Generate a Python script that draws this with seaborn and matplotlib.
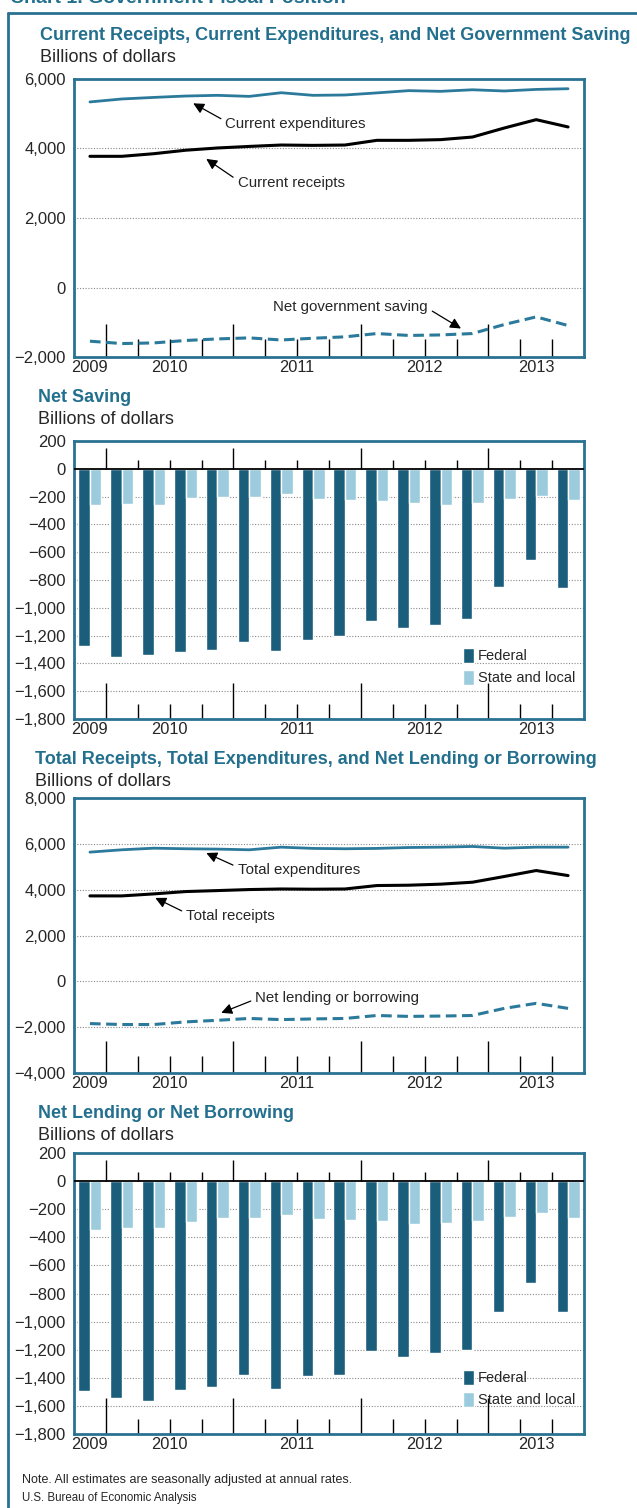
import numpy as np
import pandas as pd
import matplotlib
matplotlib.use('Agg')
import matplotlib.pyplot as plt
import matplotlib.transforms as mtransforms
from matplotlib.lines import Line2D
from matplotlib.ticker import FuncFormatter
import seaborn as sns

sns.set_style('white')
plt.rcParams['font.family'] = ['Liberation Sans', 'DejaVu Sans']

# ---- data (billions of dollars, seasonally adjusted annual rates) ----
quarters = ['2009 Q4',
            '2010 Q1', '2010 Q2', '2010 Q3', '2010 Q4',
            '2011 Q1', '2011 Q2', '2011 Q3', '2011 Q4',
            '2012 Q1', '2012 Q2', '2012 Q3', '2012 Q4',
            '2013 Q1', '2013 Q2', '2013 Q3']
years = ['2009', '2010', '2011', '2012', '2013']
quarters_per_year = [1, 4, 4, 4, 3]

current_expenditures = [5340, 5425, 5470, 5510, 5530, 5500, 5605, 5530,
                        5540, 5600, 5665, 5645, 5690, 5655, 5700, 5720]
current_receipts = [3775, 3775, 3850, 3950, 4015, 4060, 4100, 4090,
                    4100, 4235, 4235, 4255, 4330, 4590, 4830, 4620]
net_government_saving = [-1545, -1613, -1595, -1525, -1480, -1450, -1510, -1460,
                         -1420, -1325, -1380, -1365, -1325, -1065, -845, -1095]

saving_federal = [-1277, -1351, -1337, -1317, -1303, -1245, -1313, -1229,
                  -1205, -1092, -1145, -1121, -1078, -853, -654, -857]
saving_state_local = [-263, -254, -259, -211, -201, -206, -182, -216,
                      -223, -235, -249, -259, -247, -220, -199, -225]

total_expenditures = [5638, 5740, 5810, 5785, 5770, 5740, 5855, 5800,
                      5785, 5800, 5840, 5855, 5885, 5810, 5855, 5855]
total_receipts = [3728, 3728, 3815, 3917, 3960, 4005, 4030, 4020,
                  4030, 4180, 4195, 4240, 4325, 4575, 4835, 4615]
net_lending = [-1843, -1885, -1885, -1770, -1700, -1620, -1670, -1640,
               -1620, -1490, -1530, -1515, -1490, -1180, -960, -1180]

lending_federal = [-1494, -1544, -1565, -1489, -1468, -1382, -1477, -1387,
                   -1378, -1211, -1252, -1221, -1202, -931, -722, -931]
lending_state_local = [-349, -337, -337, -290, -266, -266, -242, -273,
                       -278, -285, -302, -299, -283, -259, -230, -261]

# ---- styling ----
TEAL = '#236f8e'
SPINE = '#2b7292'
LINE_TEAL = '#2c7a9b'
FEDERAL = '#1b5e7b'
STATE = '#9ccbdd'
W, H = 637, 1508

x = np.arange(len(quarters))
edges = np.cumsum(quarters_per_year) - 0.5
major_bounds = edges[:-1]
year_centers = (np.concatenate([[-0.5], edges[:-1]]) + edges) / 2
minor_bounds = [b for b in np.arange(0.5, len(quarters) - 1, 1.0) if b not in major_bounds]


def fmt(v, pos):
    return f'{v:,.0f}'.replace('-', '\u2212')


def px_axes(fig, left, top, right, bottom):
    return fig.add_axes([left / W, 1 - bottom / H, (right - left) / W, (bottom - top) / H])


def style_axes(ax, ylim, yticks, grid_vals, major_len, minor_len):
    ax.set_xlim(-0.5, len(quarters) - 0.5)
    ax.set_ylim(*ylim)
    ax.set_yticks(yticks)
    ax.yaxis.set_major_formatter(FuncFormatter(fmt))
    ax.tick_params(axis='y', length=0, labelsize=12, pad=6)
    ax.set_xticks(major_bounds)
    ax.set_xticks(minor_bounds, minor=True)
    ax.tick_params(axis='x', which='major', direction='in', length=major_len, width=1,
                   color='black', labelbottom=False, bottom=True)
    ax.tick_params(axis='x', which='minor', direction='in', length=minor_len, width=1,
                   color='black', labelbottom=False, bottom=True)
    for s in ax.spines.values():
        s.set_color(SPINE)
        s.set_linewidth(2)
    for g in grid_vals:
        ax.axhline(g, color='#8a8a8a', lw=0.8, ls=(0, (1, 1.5)), zorder=0)
    trans = mtransforms.blended_transform_factory(ax.transData, ax.transAxes)
    for yr, c in zip(years, year_centers):
        ax.text(c, -0.012, yr, transform=trans, ha='center', va='top', fontsize=11.8)
    ax.set_xlabel('')
    ax.set_ylabel('')


def titles(fig, xpx, ypx, title):
    fig.text(xpx / W, 1 - ypx / H, title, color=TEAL, fontsize=13,
             fontweight='bold', va='center', ha='left')
    fig.text(xpx / W, 1 - (ypx + 22) / H, 'Billions of dollars', fontsize=13,
             va='center', ha='left')


def arrow(ax, text, tip, pos, relpos=(0, 0.5), ha='left'):
    ax.annotate(text, xy=tip, xytext=pos, ha=ha, va='center', fontsize=10.8,
                arrowprops=dict(arrowstyle='-|>', color='black', lw=0.9,
                                mutation_scale=16, shrinkA=1, shrinkB=0,
                                relpos=relpos))


def bar_panel(ax, federal, state, legend_y):
    df = pd.DataFrame({
        'quarter': quarters * 2,
        'value': federal + state,
        'level': ['Federal'] * len(quarters) + ['State and local'] * len(quarters),
    })
    sns.barplot(data=df, x='quarter', y='value', hue='level', order=quarters,
                hue_order=['Federal', 'State and local'], palette=[FEDERAL, STATE],
                width=0.72, saturation=1, ax=ax, zorder=2)
    style_axes(ax, (-1800, 200), np.arange(-1800, 201, 200),
               [v for v in range(-1600, 201, 200) if v != 0], 26, 11)
    ax.axhline(0, color='black', lw=1.3, zorder=3)
    ax.vlines(major_bounds, 0, 150, color='black', lw=1, zorder=3)
    ax.vlines(minor_bounds, 0, 65, color='black', lw=1, zorder=3)
    handles, labels = ax.get_legend_handles_labels()
    ax.legend(handles, labels, loc='lower right', bbox_to_anchor=(0.995, legend_y),
              frameon=False, fontsize=10.5, handlelength=0.75, handleheight=1.2,
              handletextpad=0.3, labelspacing=0.45, borderaxespad=0)


fig = plt.figure(figsize=(W / 100, H / 100), dpi=100)

# outer frame and the chart heading, cut by the top edge as in the scan
fig.add_artist(Line2D([8 / W, 1], [1 - 13 / H] * 2, transform=fig.transFigure, color=SPINE, lw=2))
fig.add_artist(Line2D([8 / W] * 2, [0, 1 - 13 / H], transform=fig.transFigure, color=SPINE, lw=2))
fig.text(10 / W, 1 - 3 / H, 'Chart 1. Government Fiscal Position', color=TEAL,
         fontsize=14, fontweight='bold', va='baseline', ha='left')

# panel 1
titles(fig, 40, 35, 'Current Receipts, Current Expenditures, and Net Government Saving')
ax1 = px_axes(fig, 74, 79, 584, 357)
sns.lineplot(x=x, y=current_expenditures, ax=ax1, color=LINE_TEAL, lw=2)
sns.lineplot(x=x, y=current_receipts, ax=ax1, color='black', lw=2.2)
sns.lineplot(x=x, y=net_government_saving, ax=ax1, color=LINE_TEAL, lw=2.2, ls=(0, (3.5, 1.8)))
style_axes(ax1, (-2000, 6000), np.arange(-2000, 6001, 2000), [0, 2000, 4000], 24, 13)
arrow(ax1, 'Current expenditures', (3.24, 5300), (4.25, 4705), relpos=(0, 0.7))
arrow(ax1, 'Current receipts', (3.65, 3700), (4.63, 3007), relpos=(0, 0.7))
arrow(ax1, 'Net government saving', (11.64, -1180), (10.6, -562), relpos=(1, 0.4), ha='right')

# panel 2
titles(fig, 38, 398, 'Net Saving')
ax2 = px_axes(fig, 74, 441, 584, 719)
bar_panel(ax2, saving_federal, saving_state_local, 0.1)

# panel 3
titles(fig, 35, 760, 'Total Receipts, Total Expenditures, and Net Lending or Borrowing')
ax3 = px_axes(fig, 74, 798, 584, 1073)
sns.lineplot(x=x, y=total_expenditures, ax=ax3, color=LINE_TEAL, lw=2)
sns.lineplot(x=x, y=total_receipts, ax=ax3, color='black', lw=2.2)
sns.lineplot(x=x, y=net_lending, ax=ax3, color=LINE_TEAL, lw=2.2, ls=(0, (3.5, 1.8)))
style_axes(ax3, (-4000, 8000), np.arange(-4000, 8001, 2000), [-2000, 0, 2000, 4000, 6000], 23, 12)
arrow(ax3, 'Total expenditures', (3.65, 5600), (4.63, 4861), relpos=(0, 0.7))
arrow(ax3, 'Total receipts', (2.05, 3640), (3.02, 2855), relpos=(0, 0.7))
arrow(ax3, 'Net lending or borrowing', (4.12, -1374), (5.19, -720), relpos=(0, 0.4))

# panel 4
titles(fig, 38, 1113, 'Net Lending or Net Borrowing')
ax4 = px_axes(fig, 74, 1153, 584, 1434)
bar_panel(ax4, lending_federal, lending_state_local, 0.075)

fig.text(22 / W, 1 - 1480 / H, 'Note. All estimates are seasonally adjusted at annual rates.',
         fontsize=9, va='center', ha='left')
fig.text(22 / W, 1 - 1498 / H, 'U.S. Bureau of Economic Analysis',
         fontsize=8.3, va='center', ha='left')

fig.savefig('out.png', dpi=100)
